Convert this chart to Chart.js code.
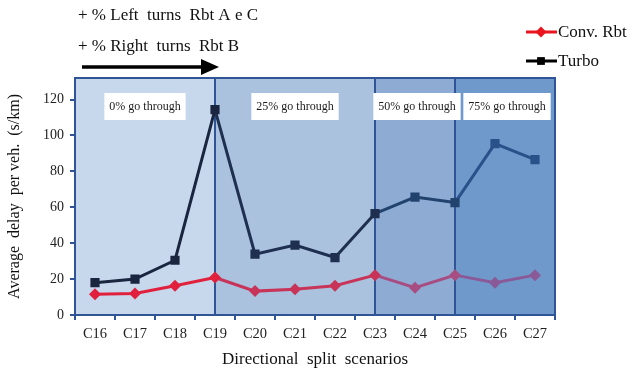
<!DOCTYPE html>
<html lang="en">
<head>
<meta charset="UTF-8">
<title>Average delay per vehicle</title>
<script src="https://cdn.jsdelivr.net/npm/chart.js"></script>
<style>
  html, body { margin: 0; padding: 0; background: #fff; }
</style>
</head>
<body>
<canvas id="delayChart" width="633" height="370"></canvas>
<script>
// data
const categories = ['C16', 'C17', 'C18', 'C19', 'C20', 'C21', 'C22', 'C23', 'C24', 'C25', 'C26', 'C27'];
const convRbt = [11.5, 12, 16.3, 20.9, 13.3, 14.4, 16.3, 22.2, 15.2, 22.2, 18, 22.2];
const turbo = [18, 20, 30.5, 114.4, 33.9, 38.9, 32, 56.5, 65.7, 62.6, 95.4, 86.5];
const yTicks = [0, 20, 40, 60, 80, 100, 120];
const regionLabels = ['0% go through', '25% go through', '50% go through', '75% go through'];
const regionBreaks = ['C19', 'C23', 'C25'];
const notes = ['+ % Left  turns  Rbt A e C', '+ % Right  turns  Rbt B'];

// styles
const serif = '"Liberation Serif", "DejaVu Serif", serif';
const frameColor = '#2f5597';
const regionFill = ['#c8d8ec', '#abc2df', '#8eabd4', '#7099cb'];
const convColors = ['#e0203c', '#c83358', '#a84d82', '#8a5a98'];
const turboColors = ['#1a2640', '#1e2f4f', '#23436f', '#2a5189'];

const breakIdx = regionBreaks.map(c => categories.indexOf(c));
const pointRegion = i => breakIdx.filter(b => b < i).length;
const segRegion = i => breakIdx.filter(b => b <= i).length;

const decor = {
  id: 'decor',
  beforeDatasetsDraw(chart) {
    const { ctx, chartArea: { left, right, top, bottom }, scales: { x } } = chart;
    const edges = [left, ...breakIdx.map(i => x.getPixelForValue(i)), right];
    ctx.save();
    for (let i = 0; i < regionFill.length; i++) {
      ctx.fillStyle = regionFill[i];
      ctx.fillRect(edges[i], top, edges[i + 1] - edges[i], bottom - top);
    }
    ctx.strokeStyle = frameColor;
    ctx.lineWidth = 2;
    for (let i = 1; i < edges.length - 1; i++) {
      ctx.beginPath();
      ctx.moveTo(edges[i], top);
      ctx.lineTo(edges[i], bottom);
      ctx.stroke();
    }
    ctx.strokeRect(left, top, right - left, bottom - top);
    ctx.restore();
    chart.$edges = edges;
  },
  afterDatasetsDraw(chart) {
    const { ctx } = chart;
    const edges = chart.$edges;
    ctx.save();
    // region label boxes
    ctx.font = '12px ' + serif;
    ctx.textAlign = 'center';
    ctx.textBaseline = 'middle';
    regionLabels.forEach((txt, i) => {
      const cx = (edges[i] + edges[i + 1]) / 2 + (i >= 2 ? 2 : 0);
      const w = ctx.measureText(txt).width + 10;
      ctx.fillStyle = '#fff';
      ctx.fillRect(cx - w / 2, 93, w, 27);
      ctx.fillStyle = '#1a1a1a';
      ctx.fillText(txt, cx, 107);
    });

    // notes above the plot
    ctx.font = '17px ' + serif;
    ctx.textAlign = 'left';
    ctx.fillStyle = '#111';
    ctx.fillText(notes[0], 78, 16);
    ctx.fillText(notes[1], 78, 47);

    // arrow
    ctx.strokeStyle = '#000';
    ctx.lineWidth = 3.5;
    ctx.beginPath();
    ctx.moveTo(82, 67);
    ctx.lineTo(204, 67);
    ctx.stroke();
    ctx.fillStyle = '#000';
    ctx.beginPath();
    ctx.moveTo(201, 59);
    ctx.lineTo(219, 67);
    ctx.lineTo(201, 75);
    ctx.closePath();
    ctx.fill();

    // legend
    const items = [
      { text: 'Conv. Rbt', color: '#e8141e', y: 32, style: 'rectRot' },
      { text: 'Turbo', color: '#000', y: 61, style: 'rect' }
    ];
    items.forEach(it => {
      ctx.strokeStyle = it.color;
      ctx.lineWidth = 3;
      ctx.beginPath();
      ctx.moveTo(526, it.y);
      ctx.lineTo(557, it.y);
      ctx.stroke();
      ctx.fillStyle = it.color;
      Chart.helpers.drawPoint(ctx, { pointStyle: it.style, radius: 5.5, borderWidth: 0 }, 541, it.y);
      ctx.fillStyle = '#111';
      ctx.font = '17px ' + serif;
      ctx.fillText(it.text, 558, it.y + 1);
    });
    ctx.restore();
  }
};

const ctx = document.getElementById('delayChart').getContext('2d');
new Chart(ctx, {
  type: 'line',
  data: {
    labels: categories,
    datasets: [
      {
        label: 'Conv. Rbt',
        data: convRbt,
        borderWidth: 3,
        borderColor: convColors[0],
        pointStyle: 'rectRot',
        pointRadius: 6,
        pointBorderWidth: 0,
        pointBackgroundColor: c => convColors[pointRegion(c.dataIndex)],
        segment: { borderColor: c => convColors[segRegion(c.p0DataIndex)] }
      },
      {
        label: 'Turbo',
        data: turbo,
        borderWidth: 3,
        borderColor: turboColors[0],
        pointStyle: 'rect',
        pointRadius: 6.5,
        pointBorderWidth: 0,
        pointBackgroundColor: c => turboColors[pointRegion(c.dataIndex)],
        segment: { borderColor: c => turboColors[segRegion(c.p0DataIndex)] }
      }
    ]
  },
  options: {
    responsive: false,
    animation: false,
    devicePixelRatio: 1,
    layout: { padding: { left: 0, right: 78, top: 78, bottom: 0 } },
    plugins: { legend: { display: false }, tooltip: { enabled: false } },
    scales: {
      x: {
        offset: true,
        grid: { offset: true, drawOnChartArea: false, tickLength: 5, color: frameColor, lineWidth: 2 },
        border: { color: frameColor, width: 2 },
        ticks: { font: { family: serif, size: 14.5 }, color: '#222', padding: 5, maxRotation: 0, autoSkip: false },
        title: { display: true, text: 'Directional  split  scenarios', font: { family: serif, size: 17 }, color: '#111', padding: 0 },
        afterFit: s => { s.height = 55; }
      },
      y: {
        min: 0,
        max: 132,
        afterBuildTicks: s => { s.ticks = yTicks.map(v => ({ value: v })); },
        grid: { drawOnChartArea: false, tickLength: 5, color: frameColor, lineWidth: 2 },
        border: { color: frameColor, width: 2 },
        ticks: { font: { family: serif, size: 14 }, color: '#222', padding: 6 },
        title: { display: true, text: 'Average  delay  per veh.  (s/km)', font: { family: serif, size: 16 }, color: '#111', padding: { top: 5, bottom: 0 } },
        afterFit: s => { s.width = 75; }
      }
    }
  },
  plugins: [decor]
});
</script>
</body>
</html>
